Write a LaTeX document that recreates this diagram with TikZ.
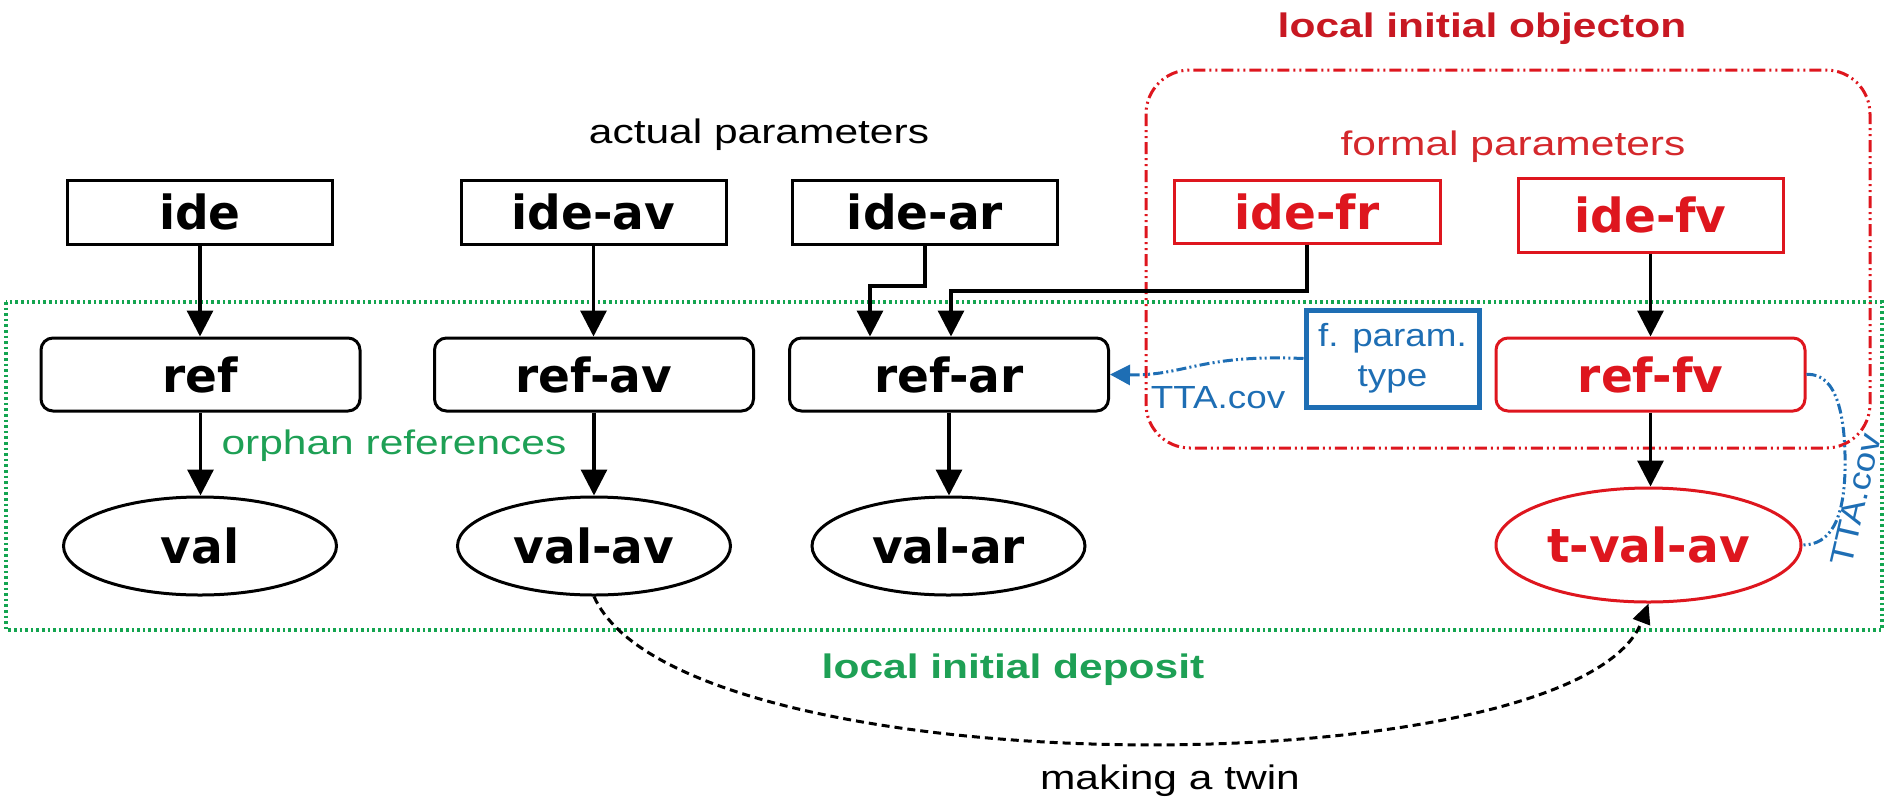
\documentclass[tikz,border=0pt]{standalone}
\usepackage{fontspec}
\setmainfont{Liberation Sans}
\newfontfamily\lblfont{DejaVu Sans}
\newfontfamily\txtfont[FakeStretch=1.25]{Liberation Sans}
\newfontfamily\bluetxtfont[FakeStretch=1.15]{Liberation Sans}
\usetikzlibrary{arrows.meta,shapes.geometric}
\definecolor{nodered}{RGB}{222,22,30}
\definecolor{titlered}{RGB}{200,24,34}
\definecolor{softred}{RGB}{212,40,44}
\definecolor{dgreen}{RGB}{20,165,80}
\definecolor{tgreen}{RGB}{30,160,85}
\definecolor{tblue}{RGB}{30,110,180}
\tikzset{
  lbl/.style={font=\lblfont\bfseries\fontsize{23.5pt}{28pt}\selectfont, inner sep=0pt, fill=white},
  idebox/.style={lbl, draw, line width=1.5pt, minimum width=132.5pt, minimum height=32pt},
  refbox/.style={lbl, draw, line width=1.5pt, rounded corners=6pt, minimum width=159.5pt, minimum height=36.5pt},
  valell/.style={lbl, draw, ellipse, line width=1.5pt, minimum width=136.5pt, minimum height=49pt},
  redc/.style={draw=nodered, text=nodered},
  arr/.style={line width=1.6pt, -{Triangle[length=13pt,width=13pt]}},
  txt/.style={font=\txtfont\fontsize{17pt}{20pt}\selectfont, inner sep=0pt, anchor=base},
  btxt/.style={font=\txtfont\bfseries\fontsize{17pt}{20pt}\selectfont, inner sep=0pt, anchor=base},
  bluetxt/.style={font=\bluetxtfont\fontsize{16pt}{20pt}\selectfont, inner sep=0pt, text=tblue},
  dashdotdot/.style={dash pattern=on 5pt off 1.6pt on 1pt off 1.6pt on 1pt off 1.6pt},
  reddashdot/.style={dash pattern=on 6pt off 2pt on 1pt off 2pt on 1pt off 2pt},
  greendots/.style={dash pattern=on 1.3pt off 1.5pt},
}
\begin{document}
\begin{tikzpicture}[x=0.5pt,y=-0.5pt]
\useasboundingbox (0,0) rectangle (1887,799);

% regions
\draw[dgreen, line width=2.2pt, greendots] (6,302) rectangle (1882,630);
\draw[nodered, line width=1.5pt, reddashdot, rounded corners=22pt] (1146,70) rectangle (1870,448);

% texts
\node[btxt, text=titlered] (tTitle) at (1482,37) {local initial objecton};
\node[txt] (tActual) at (759,143) {actual parameters};
\node[txt, text=softred] (tFormal) at (1513,155) {formal parameters};
\node[txt, text=tgreen] (tOrphan) at (394,454) {orphan references};
\node[btxt, text=tgreen] (tDeposit) at (1013,678) {local initial deposit};
\node[txt] (tTwin) at (1170,789) {making a twin};

% top row
\node[idebox] (ide)   at (200,212)   {ide};
\node[idebox] (ideav) at (593.5,212) {ide-av};
\node[idebox] (idear) at (925,212)   {ide-ar};
\node[idebox, redc, minimum width=133pt, minimum height=31.5pt] (idefr) at (1307,211.5) {ide-fr};
\node[idebox, redc, minimum height=37pt] (idefv) at (1650.5,215) {ide-fv};

% middle row
\node[refbox] (ref)   at (200.5,374.5) {ref};
\node[refbox] (refav) at (594,374.5)   {ref-av};
\node[refbox] (refar) at (949,374.5)   {ref-ar};
\node[refbox, redc, minimum width=154.5pt] (reffv) at (1650.5,374.5) {ref-fv};
\node[draw=tblue, line width=2.5pt, fill=white, minimum width=86.5pt, minimum height=48.5pt,
      inner sep=0pt, align=center, bluetxt] (fparam) at (1392.5,358.5) {f. param.\\type};

% bottom row
\node[valell] (val)   at (200,546)   {val};
\node[valell] (valav) at (594,546)   {val-av};
\node[valell] (valar) at (948.5,546) {val-ar};
\node[valell, redc, minimum width=152.5pt, minimum height=57pt] (tvalav) at (1648.5,545) {t-val-av};

% bends
\coordinate (bendA) at (870,286);
\coordinate (bendB) at (951,291);

% black arrows
\draw[arr] (ide.south) -- (ide.south |- ref.north);
\draw[arr] (ref.south) -- (ref.south |- val.north);
\draw[arr] (ideav.south) -- (ideav.south |- refav.north);
\draw[arr] (refav.south) -- (refav.south |- valav.north);
\draw[arr] (idear.south) |- (bendA) -- (bendA |- refar.north);
\draw[arr] (idefr.south) |- (bendB) -- (bendB |- refar.north);
\draw[arr] (refar.south) -- (refar.south |- valar.north);
\draw[arr] (idefv.south) -- (idefv.south |- reffv.north);
\draw[arr] (reffv.south) -- (reffv.south |- tvalav.north);

% making a twin
\draw[line width=1.5pt, dash pattern=on 4pt off 2.5pt, -{Triangle[length=10pt,width=9pt]}]
  (valav.south) .. controls (680,790) and (1578,790) .. (tvalav.south);

% blue covariance links
\draw[tblue, line width=1.5pt, dashdotdot, -{Triangle[length=10pt,width=10pt]}]
  (fparam.west) .. controls (1200,354) and (1185,376) .. (refar.east);
\node[bluetxt, anchor=base] (tTtaL) at (1218,408) {TTA.cov};
\draw[tblue, line width=1.5pt, dashdotdot]
  (reffv.east) .. controls (1838,372) and (1846,420) .. (1845,470)
  .. controls (1844,520) and (1830,545) .. (tvalav.east);
\node[bluetxt, rotate=77] (tTtaR) at (1856,500) {TTA.cov};
\end{tikzpicture}
\end{document}
